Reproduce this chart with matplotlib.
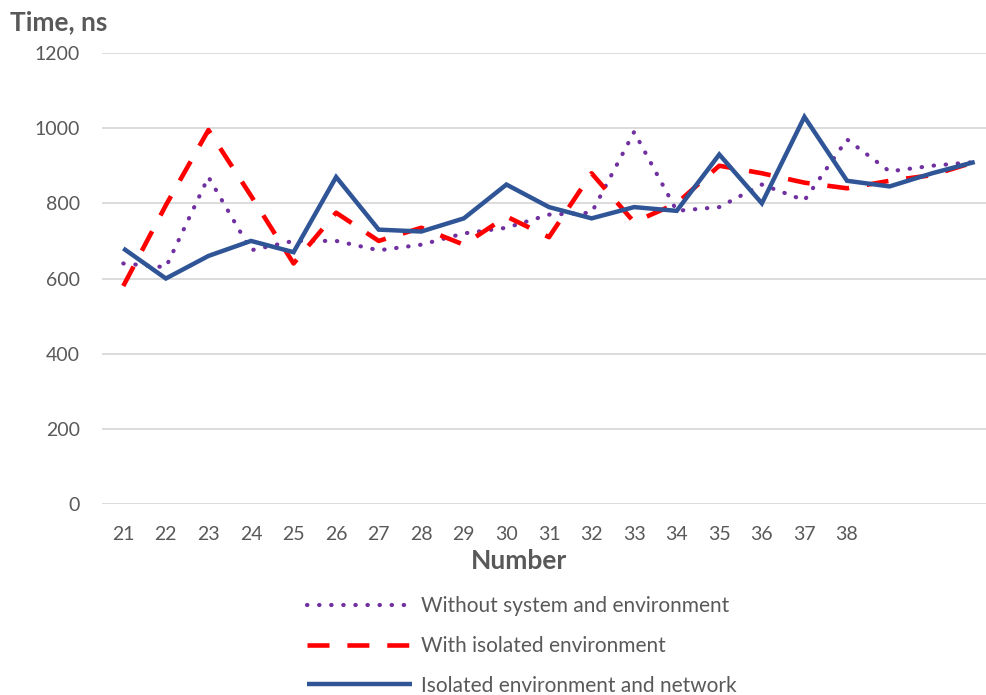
import matplotlib
matplotlib.use("Agg")
import matplotlib.pyplot as plt

plt.rcParams['font.family'] = ['Lato', 'DejaVu Sans']

tick_labels = ["21", "22", "23", "24", "25", "26", "27", "28", "29", "30",
               "31", "32", "33", "34", "35", "36", "37", "38", "", "", ""]
without_sys = [640, 630, 870, 675, 700, 700, 675, 690, 720, 735,
               770, 775, 990, 780, 790, 850, 808, 970, 885, 900, 910]
with_isolated = [580, 795, 995, 820, 640, 775, 700, 735, 690, 765,
                 710, 880, 750, 800, 900, 880, 855, 840, 860, 875, 910]
isolated_net = [680, 600, 660, 700, 670, 870, 730, 725, 760, 850,
                790, 760, 790, 780, 930, 800, 1030, 860, 845, 880, 910]
y_ticks = [0, 200, 400, 600, 800, 1000, 1200]

text_col = '#595959'
fig = plt.figure(figsize=(9.87, 6.95), dpi=100)
W, H = 987, 695
left, right, top, bottom = 102, 996, 53, 504
ax = fig.add_axes([left / W, 1 - bottom / H, (right - left) / W, (bottom - top) / H])

x = list(range(len(tick_labels)))
l1, = ax.plot(x, without_sys, color='#7030A0', lw=3.0, linestyle=(0, (0.1, 2.8)),
              dash_capstyle='round', solid_joinstyle='round', label='Without system and environment')
l2, = ax.plot(x, with_isolated, color='#FF0000', lw=3.3, linestyle=(0, (4.8, 3.9)),
              label='With isolated environment')
l3, = ax.plot(x, isolated_net, color='#2F5597', lw=3.2, solid_joinstyle='miter',
              solid_capstyle='butt', label='Isolated environment and network')

ax.set_xlim(-0.5, len(x) - 0.5)
ax.set_ylim(0, 1200)
ax.set_yticks(y_ticks)
ax.set_xticks(x)
ax.set_xticklabels(tick_labels)
ax.grid(axis='y', color='#D9D9D9', lw=1.3)
ax.set_axisbelow(True)
for s in ax.spines.values():
    s.set_visible(False)
ax.tick_params(length=0, labelsize=14, labelcolor=text_col)
ax.tick_params(axis='y', pad=16)
ax.tick_params(axis='x', pad=16)

fig.text(10 / W, 1 - 22 / H, 'Time, ns', fontsize=19, fontweight='bold', color=text_col,
         ha='left', va='center')
fig.text(519 / W, 1 - 561 / H, 'Number', fontsize=19, fontweight='bold', color=text_col,
         ha='center', va='center')

fig.legend(handles=[l1, l2, l3], loc='upper left', bbox_to_anchor=(307 / W, 1 - 596 / H),
           frameon=False, fontsize=15, labelcolor=text_col, handlelength=5.05,
           labelspacing=0.95, handletextpad=0.4, borderaxespad=0, borderpad=0)

fig.savefig('out.png', dpi=100)
